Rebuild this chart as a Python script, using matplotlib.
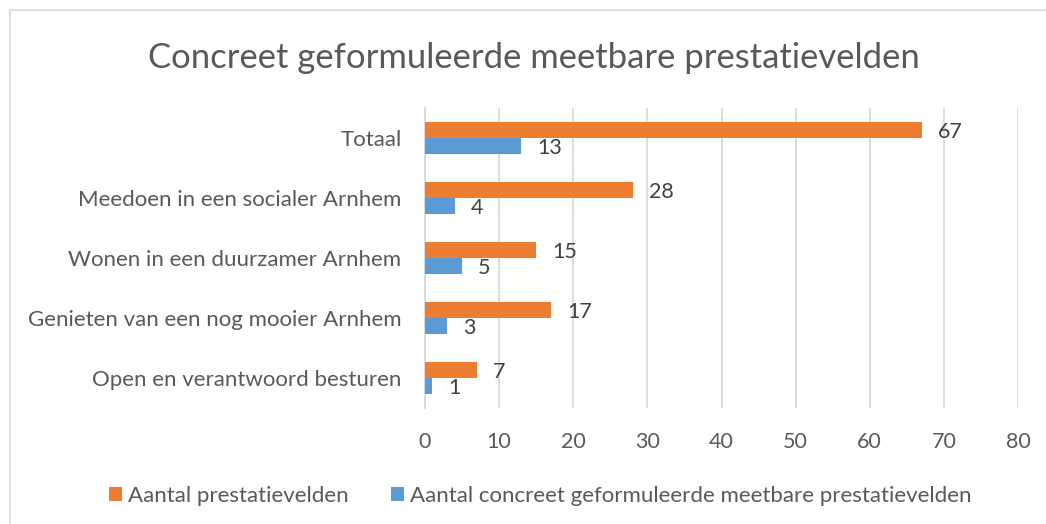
import matplotlib
matplotlib.use("Agg")
import matplotlib.pyplot as plt
from matplotlib.lines import Line2D
from matplotlib.patches import Patch
import numpy as np

categories = [
    "Totaal",
    "Meedoen in een socialer Arnhem",
    "Wonen in een duurzamer Arnhem",
    "Genieten van een nog mooier Arnhem",
    "Open en verantwoord besturen",
]
aantal_prestatievelden = [67, 28, 15, 17, 7]
aantal_meetbaar = [13, 4, 5, 3, 1]
series_names = ["Aantal prestatievelden",
                "Aantal concreet geformuleerde meetbare prestatievelden"]
x_ticks = [0, 10, 20, 30, 40, 50, 60, 70, 80]

ORANGE = "#ED7D31"
BLUE = "#5B9BD5"
TEXT = "#595959"
LABEL = "#404040"
GRID = "#D9D9D9"
FONT = "Lato"

W, H = 1046, 524
fig = plt.figure(figsize=(W / 100, H / 100), dpi=100)
fig.patch.set_facecolor("white")

# chart frame (left and top edges)
fig.add_artist(Line2D([9.5 / W, 9.5 / W], [0, 1 - 10 / H], transform=fig.transFigure,
                      color=GRID, lw=1.2))
fig.add_artist(Line2D([9.5 / W, 1], [1 - 10 / H, 1 - 10 / H], transform=fig.transFigure,
                      color=GRID, lw=1.2))

left, right, top, bottom = 425, 1018, 108, 408
ax = fig.add_axes([left / W, 1 - bottom / H, (right - left) / W, (bottom - top) / H])

y = np.arange(len(categories))
bh = 0.267
ax.barh(y - bh / 2, aantal_prestatievelden, height=bh, color=ORANGE, zorder=3)
ax.barh(y + bh / 2, aantal_meetbaar, height=bh, color=BLUE, zorder=3)

for yi, v in zip(y, aantal_prestatievelden):
    ax.annotate(str(v), (v, yi - bh / 2), xytext=(11.5, 0), textcoords="offset points",
                va="center_baseline", ha="left", fontsize=15.5, color=LABEL, family=FONT)
for yi, v in zip(y, aantal_meetbaar):
    ax.annotate(str(v), (v, yi + bh / 2), xytext=(11.5, 0), textcoords="offset points",
                va="center_baseline", ha="left", fontsize=15.5, color=LABEL, family=FONT)

ax.set_xlim(0, 80)
ax.set_ylim(len(categories) - 0.5, -0.5)
ax.set_xticks(x_ticks)
ax.set_xticklabels([str(t) for t in x_ticks], fontsize=15.5, color=TEXT, family=FONT)
ax.set_yticks(y)
ax.set_yticklabels(categories, fontsize=16.0, color=TEXT, family=FONT)
ax.tick_params(axis="both", length=0)
ax.tick_params(axis="x", pad=17)
ax.tick_params(axis="y", pad=17)
ax.xaxis.grid(True, color=GRID, lw=1.3, zorder=0)
for s in ["top", "right", "bottom"]:
    ax.spines[s].set_visible(False)
ax.spines["left"].set_color(GRID)
ax.spines["left"].set_linewidth(1.3)

fig.text(534 / W, 1 - 58 / H, "Concreet geformuleerde meetbare prestatievelden",
         ha="center", va="center", fontsize=24.9, color=TEXT, family=FONT)

handles = [Patch(facecolor=ORANGE), Patch(facecolor=BLUE)]
fig.legend(handles, series_names, loc="center", bbox_to_anchor=(540 / W, 1 - 496 / H),
           ncol=2, frameon=False, handlelength=0.6, handleheight=0.6, handletextpad=0.25,
           columnspacing=1.9, prop={"family": FONT, "size": 16.0}, labelcolor=TEXT)

fig.savefig("out.png", dpi=100, facecolor="white")
